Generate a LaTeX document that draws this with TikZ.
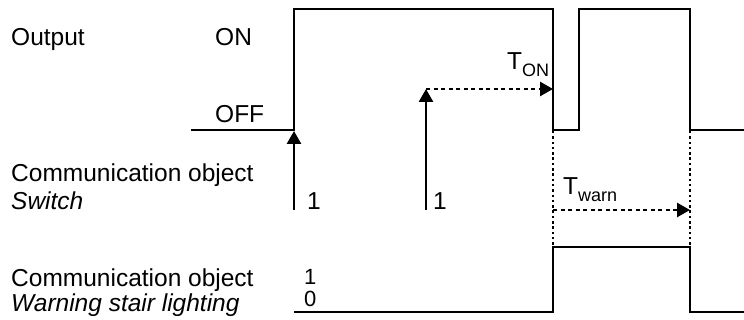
\documentclass[tikz,border=0pt]{standalone}
\usepackage{fontspec}
\setmainfont{Liberation Sans}
\usetikzlibrary{positioning,arrows.meta}

\newcommand{\timesub}[1]{\raisebox{-0.28em}{\fontsize{18}{20}\selectfont #1}}

\begin{document}
\begin{tikzpicture}[x=1pt,y=-1pt,>={Triangle[length=13pt,width=14pt]},
  every node/.style={font=\fontsize{24.5}{28}\selectfont,inner sep=0pt,anchor=base west},
  level/.style={font=\fontsize{22}{22}\selectfont},
  signal/.style={line width=2.7pt,line join=miter},
  trigger/.style={line width=2.7pt,->},
  period/.style={line width=2.7pt,dash pattern=on 4pt off 3.5pt,->},
  marker/.style={line width=2.7pt,dash pattern=on 2.5pt off 2.8pt}]
  \useasboundingbox (0,0) rectangle (744,320);
  % labels
  \node (out) at (11,46) {Output};
  \node (on) at (215,46) {ON};
  \node (off) at (215,123) {OFF};
  \node (co1) at (11,182) {Communication object};
  \node (sw) [below=28pt of co1.base west,anchor=base west] {\itshape Switch};
  \node (co2) at (11,287) {Communication object};
  \node (wl) [below=25pt of co2.base west,anchor=base west] {\itshape Warning stair lighting};
  \node (one1) at (307,210) {1};
  \node (one2) at (433,210) {1};
  \node[level] (hi) at (304,285) {1};
  \node[level] (lo) at (304,306) {0};
  \node (ton) at (507,70) {T\timesub{ON}};
  \node (tw) at (563,195) {T\timesub{warn}};
  % time points
  \coordinate (s1) at (294,210);
  \coordinate (e1) at (294,131);
  \coordinate (s2) at (426,210);
  \coordinate (e2) at (426,89);
  \coordinate (off1) at (553,89);
  \coordinate (w1) at (553,210);
  \coordinate (w2) at (690,210);
  % output
  \draw[signal] (191,130) -- (294,130) -- (294,9) -- (553,9) -- (553,130)
    -- (579,130) -- (579,9) -- (690,9) -- (690,130) -- (744,130);
  % warning object
  \draw[signal] (294,312) -- (553,312) -- (553,247) -- (690,247)
    -- (690,312) -- (744,312);
  % markers
  \draw[marker] (553,131) -- (553,246);
  \draw[marker] (690,131) -- (690,246);
  % switch telegrams and times
  \draw[trigger] (s1) -- (e1);
  \draw[trigger] (s2) -- (e2);
  \draw[period] (e2) -- (off1);
  \draw[period] (w1) -- (w2);
\end{tikzpicture}
\end{document}
